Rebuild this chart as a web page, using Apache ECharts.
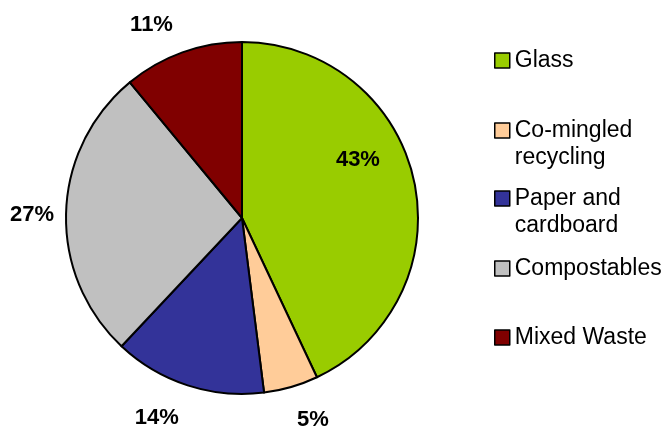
<!DOCTYPE html>
<html>
<head>
<meta charset="utf-8">
<script src="https://cdn.jsdelivr.net/npm/echarts@6/dist/echarts.min.js"></script>
<style>html,body{margin:0;padding:0;background:#fff}#c{width:671px;height:426px}</style>
</head>
<body>
<div id="c"></div>
<script>
var categories = ['Glass', 'Co-mingled recycling', 'Paper and cardboard', 'Compostables', 'Mixed Waste'];
var legendLabels = ['Glass', 'Co-mingled\nrecycling', 'Paper and\ncardboard', 'Compostables', 'Mixed Waste'];
var values = [43, 5, 14, 27, 11];
var colors = ['#99CC00', '#FFCC99', '#333399', '#C0C0C0', '#800000'];

var chart = echarts.init(document.getElementById('c'), null, {renderer: 'canvas'});
var FONT = 'Liberation Sans, Arial, sans-serif';

var pieData = categories.map(function (n, i) {
  return {name: n, value: values[i], itemStyle: {color: colors[i]}};
});
var labelData = categories.map(function (n, i) {
  return {name: n, value: values[i]};
});

// label nudges (style only)
var nudges = [[-90, -12], [12, -1], [-20, -1], [1, 4], [-19, 5]];
var legendTops = [47, 90, 158, 255, 324];

var legends = categories.map(function (n, i) {
  var multi = legendLabels[i].indexOf('\n') >= 0;
  return {
    data: [n],
    left: 494,
    top: legendTops[i],
    padding: 0,
    itemWidth: 15,
    itemHeight: 15,
    itemGap: 0,
    selectedMode: false,
    icon: 'rect',
    itemStyle: {borderColor: '#000', borderWidth: 1.5},
    // leading blank line keeps the first text line level with the marker
    formatter: function () { return multi ? '\n' + legendLabels[i] : legendLabels[i]; },
    textStyle: {fontFamily: FONT, fontSize: 23, color: '#000', lineHeight: 27}
  };
});

chart.setOption({
  animation: false,
  backgroundColor: '#fff',
  legend: legends,
  series: [
    {
      type: 'pie',
      center: [242, 218],
      radius: [0, 176],
      startAngle: 90,
      clockwise: true,
      silent: true,
      label: {show: false},
      labelLine: {show: false},
      itemStyle: {borderColor: '#000', borderWidth: 2},
      data: pieData
    },
    {
      type: 'pie',
      center: [242, 218],
      radius: [0, 416],
      startAngle: 90,
      clockwise: true,
      silent: true,
      legendHoverLink: false,
      itemStyle: {color: 'rgba(0,0,0,0)', borderWidth: 0},
      label: {
        show: true,
        position: 'inside',
        formatter: function (p) { return p.value + '%'; },
        fontFamily: FONT, fontSize: 22, fontWeight: 'bold', color: '#000'
      },
      labelLine: {show: false},
      labelLayout: function (p) {
        return {dx: nudges[p.dataIndex][0], dy: nudges[p.dataIndex][1]};
      },
      data: labelData
    }
  ]
});
</script>
</body>
</html>
